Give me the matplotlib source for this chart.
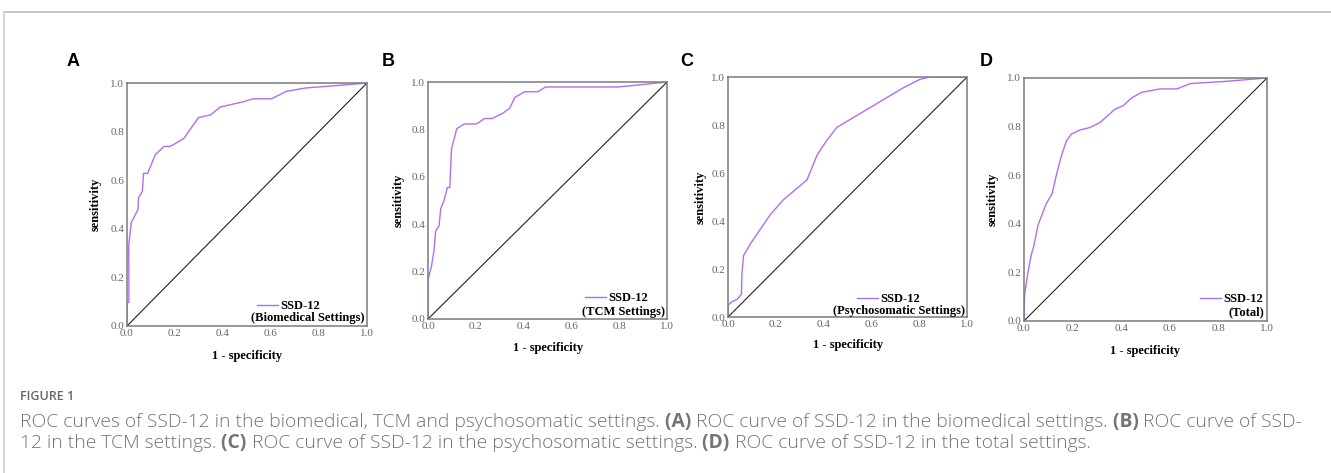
import matplotlib.pyplot as plt
from matplotlib.lines import Line2D

# ROC points (1 - specificity, sensitivity)
fpr_a = [0, 0, 0.008, 0.008, 0.007, 0.018, 0.046, 0.048, 0.064, 0.069, 0.086, 0.118, 0.155, 0.18,
         0.205, 0.238, 0.298, 0.349, 0.388, 0.485, 0.524, 0.602, 0.665, 0.748, 0.83, 1.0]
tpr_a = [0, 0.097, 0.097, 0.2, 0.33, 0.426, 0.48, 0.527, 0.554, 0.628, 0.628, 0.705, 0.739, 0.739,
         0.753, 0.773, 0.858, 0.869, 0.901, 0.923, 0.935, 0.935, 0.966, 0.98, 0.986, 1.0]

fpr_b = [0, 0, 0.014, 0.025, 0.032, 0.046, 0.053, 0.066, 0.081, 0.091, 0.098, 0.12, 0.151, 0.202,
         0.237, 0.268, 0.314, 0.342, 0.363, 0.404, 0.46, 0.491, 0.795, 1.0]
tpr_b = [0, 0.166, 0.221, 0.29, 0.372, 0.393, 0.466, 0.497, 0.555, 0.555, 0.717, 0.803, 0.823, 0.823,
         0.846, 0.846, 0.869, 0.89, 0.935, 0.959, 0.959, 0.979, 0.979, 1.0]

fpr_c = [0, 0, 0.017, 0.038, 0.056, 0.058, 0.065, 0.093, 0.135, 0.177, 0.232, 0.281, 0.33, 0.372,
         0.413, 0.455, 0.733, 0.802, 0.844, 1.0]
tpr_c = [0, 0.05, 0.064, 0.074, 0.095, 0.181, 0.256, 0.304, 0.366, 0.427, 0.489, 0.53, 0.571, 0.674,
         0.736, 0.79, 0.955, 0.99, 1.0, 1.0]

fpr_d = [0, 0.003, 0.017, 0.03, 0.041, 0.058, 0.092, 0.116, 0.133, 0.154, 0.175, 0.195, 0.23, 0.271,
         0.312, 0.34, 0.374, 0.409, 0.443, 0.484, 0.56, 0.629, 0.684, 0.828, 1.0]
tpr_d = [0, 0.109, 0.204, 0.272, 0.31, 0.395, 0.483, 0.524, 0.599, 0.68, 0.741, 0.769, 0.786, 0.796,
         0.816, 0.841, 0.871, 0.887, 0.918, 0.941, 0.955, 0.955, 0.977, 0.986, 1.0]

letters = ['A', 'B', 'C', 'D']
settings = ['(Biomedical Settings)', '(TCM Settings)', '(Psychosomatic Settings)', '(Total)']
ticks = [0.0, 0.2, 0.4, 0.6, 0.8, 1.0]
tick_labels = ['0.0', '0.2', '0.4', '0.6', '0.8', '1.0']

curves = [(fpr_a, tpr_a), (fpr_b, tpr_b), (fpr_c, tpr_c), (fpr_d, tpr_d)]

# axes boxes in figure fraction (left, bottom, width, height)
boxes = [(0.0954, 0.3108, 0.1803, 0.5137),
         (0.3216, 0.3256, 0.1796, 0.5010),
         (0.5470, 0.3298, 0.1796, 0.5074),
         (0.7693, 0.3214, 0.1826, 0.5137)]
ylab_x = [-0.104, -0.096, -0.088, -0.103]
xlab_y = [-0.099, -0.097, -0.092, -0.099]
letter_x = [67, 382, 680, 980]
# legend placement in axes fraction: right edge of "SSD-12", its centre, centre of 2nd line
leg_x = [0.804, 0.92, 0.803, 0.984]
leg_y = [0.082, 0.088, 0.075, 0.09]
sub_y = [0.033, 0.03, 0.025, 0.037]

purple = '#b06ef2'
grey = '#7a7a7a'
serif = 'Liberation Serif'

fig = plt.figure(figsize=(13.31, 4.73), dpi=100)

for i in range(4):
    ax = fig.add_axes(boxes[i])
    fx, ty = curves[i]
    ax.plot(fx, ty, color=purple, lw=1.0, label='SSD-12')
    ax.plot([0, 1], [0, 1], color='#222222', lw=0.8)
    ax.set_xlim(0, 1)
    ax.set_ylim(0, 1)
    ax.set_xticks(ticks)
    ax.set_yticks(ticks)
    ax.set_xticklabels(tick_labels, family=serif, fontsize=8, color='#666666')
    ax.set_yticklabels(tick_labels, family=serif, fontsize=8, color='#666666')
    ax.tick_params(length=0, pad=2)
    for s in ax.spines.values():
        s.set_color(grey)
        s.set_linewidth(1.1)
    ax.set_ylabel('sensitivity', family=serif, fontweight='bold', fontsize=9)
    ax.set_xlabel('1 - specificity', family=serif, fontweight='bold', fontsize=9)
    ax.yaxis.set_label_coords(ylab_x[i], 0.5)
    ax.xaxis.set_label_coords(0.5, xlab_y[i])
    ax.legend(loc='center right', bbox_to_anchor=(leg_x[i], leg_y[i]), frameon=False,
              handlelength=1.7, handletextpad=0.15, borderaxespad=0, borderpad=0,
              prop={'family': serif, 'weight': 'bold', 'size': 9})
    ax.text(0.99, sub_y[i], settings[i], transform=ax.transAxes, ha='right', va='center',
            family=serif, fontweight='bold', fontsize=9)
    fig.text(letter_x[i] / 1331, 0.86, letters[i], family='Liberation Sans', fontweight='bold',
             fontsize=13, va='baseline')

# frame lines of the figure panel
fig.add_artist(Line2D([4 / 1331, 1], [1 - 12 / 473, 1 - 12 / 473], color='#bdbdbd', lw=1.2))
fig.add_artist(Line2D([4 / 1331, 4 / 1331], [0, 1 - 12 / 473], color='#d0d0d0', lw=1.2))

cap_color = '#747474'
cap_font = 'Open Sans'
cap_x = 20 / 1331
fig.text(cap_x, 1 - 400 / 473, 'FIGURE 1', family=cap_font, fontsize=9, color='#666666',
         fontweight='semibold')

renderer = fig.canvas.get_renderer()


def rich_line(x, y, parts):
    for s, w in parts:
        t = fig.text(x, y, s, family=cap_font, fontsize=13.85, color=cap_color, fontweight=w)
        x += t.get_window_extent(renderer).width / fig.bbox.width


line1 = [('ROC curves of SSD-12 in the biomedical, TCM and psychosomatic settings.', 'light'),
         (' (A)', 'bold'),
         (' ROC curve of SSD-12 in the biomedical settings.', 'light'),
         (' (B)', 'bold'),
         (' ROC curve of SSD-', 'light')]
line2 = [('12 in the TCM settings.', 'light'),
         (' (C)', 'bold'),
         (' ROC curve of SSD-12 in the psychosomatic settings.', 'light'),
         (' (D)', 'bold'),
         (' ROC curve of SSD-12 in the total settings.', 'light')]
rich_line(cap_x, 1 - 427 / 473, line1)
rich_line(cap_x, 1 - 448 / 473, line2)

fig.savefig('out.png', dpi=100)
